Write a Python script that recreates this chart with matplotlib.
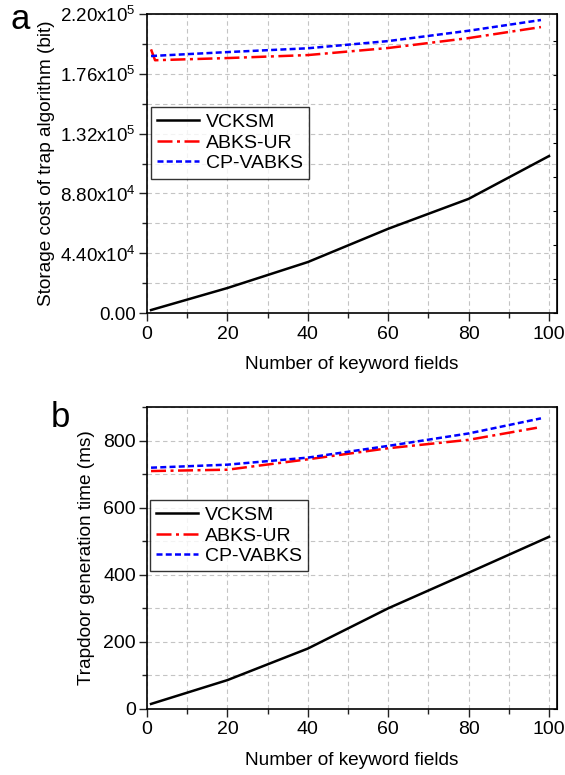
import matplotlib
matplotlib.use("Agg")
import matplotlib.pyplot as plt
from matplotlib.ticker import MultipleLocator

plt.rcParams['font.family'] = ['Liberation Sans', 'DejaVu Sans']
plt.rcParams['mathtext.fontset'] = 'custom'
plt.rcParams['mathtext.rm'] = 'Liberation Sans'

# panel a: storage cost of trap algorithm (bit)
xa_vcksm = [1, 20, 40, 60, 80, 100]
ya_vcksm = [2200, 18400, 37500, 62000, 84000, 115500]
xa_abks = [1, 2, 20, 40, 60, 80, 98]
ya_abks = [194000, 186000, 187600, 189800, 195000, 202300, 210400]
xa_cp = [1, 20, 40, 60, 80, 98]
ya_cp = [189100, 192000, 194800, 200100, 207700, 215600]
ya_ticks = [0, 44000, 88000, 132000, 176000, 220000]
ya_labels = ['0.00', '4.40x10$^{4}$', '8.80x10$^{4}$', '1.32x10$^{5}$',
             '1.76x10$^{5}$', '2.20x10$^{5}$']

# panel b: trapdoor generation time (ms)
xb_vcksm = [1, 20, 40, 60, 80, 100]
yb_vcksm = [15, 86, 180, 300, 406, 513]
xb_abks = [1, 20, 40, 60, 80, 97]
yb_abks = [709, 713, 744, 777, 802, 838]
xb_cp = [1, 20, 40, 60, 80, 98]
yb_cp = [719, 728, 749, 784, 821, 866]

names = ['VCKSM', 'ABKS-UR', 'CP-VABKS']

fig = plt.figure(figsize=(5.65, 7.75), dpi=100)
ax1 = fig.add_axes([0.2602, 0.5961, 0.7257, 0.3858])
ax2 = fig.add_axes([0.2602, 0.0852, 0.7257, 0.3897])


def style(ax, yfs):
    ax.set_xlim(0, 102)
    ax.xaxis.set_major_locator(MultipleLocator(20))
    ax.xaxis.set_minor_locator(MultipleLocator(10))
    ax.grid(True, which='both', ls=(0, (4, 3)), color='#c4c4c4', lw=0.8)
    ax.set_axisbelow(True)
    ax.tick_params(which='both', direction='out', width=1, color='#222222')
    ax.tick_params(axis='x', labelsize=14, pad=3)
    ax.tick_params(axis='y', labelsize=yfs, pad=2)
    ax.tick_params(which='major', length=6)
    ax.tick_params(which='minor', length=3.5)
    ax.tick_params(which='both', top=False, right=False)
    ax.secondary_yaxis('right').tick_params(which='both', direction='in',
                                            labelright=False, length=3)
    for s in ax.spines.values():
        s.set_linewidth(1.2)
    ax.set_xlabel('Number of keyword fields', fontsize=13.7, labelpad=10)


def lines(ax, d, anchor):
    (x1, y1), (x2, y2), (x3, y3) = d
    ax.plot(x1, y1, color='black', lw=1.8, label=names[0])
    ax.plot(x2, y2, color='red', lw=1.8, ls=(0, (6, 1.8, 1.2, 1.8)), label=names[1])
    ax.plot(x3, y3, color='blue', lw=1.8, ls=(0, (2.4, 1.3)), label=names[2])
    leg = ax.legend(loc='upper left', bbox_to_anchor=anchor, borderaxespad=0,
                    fontsize=14, frameon=True, fancybox=False,
                    edgecolor='black', handlelength=2.15, borderpad=0.32,
                    labelspacing=0.16, handletextpad=0.36)
    leg.get_frame().set_linewidth(1.0)
    return leg


style(ax1, 13.5)
ax1.set_ylim(0, 220000)
ax1.set_yticks(ya_ticks)
ax1.set_yticklabels(ya_labels)
ax1.yaxis.set_minor_locator(MultipleLocator(22000))
lines(ax1, [(xa_vcksm, ya_vcksm), (xa_abks, ya_abks), (xa_cp, ya_cp)], (0.01, 0.689))
ax1.set_ylabel('Storage cost of trap algorithm (bit)', fontsize=13.7, labelpad=4)

style(ax2, 14)
ax2.set_ylim(0, 900)
ax2.yaxis.set_major_locator(MultipleLocator(200))
ax2.yaxis.set_minor_locator(MultipleLocator(100))
lines(ax2, [(xb_vcksm, yb_vcksm), (xb_abks, yb_abks), (xb_cp, yb_cp)], (0.007, 0.692))
ax2.set_ylabel('Trapdoor generation time (ms)', fontsize=13.7, labelpad=6)

fig.text(0.018, 0.963, 'a', fontsize=25)
fig.text(0.09, 0.449, 'b', fontsize=25)

fig.savefig('out.png', dpi=100)
